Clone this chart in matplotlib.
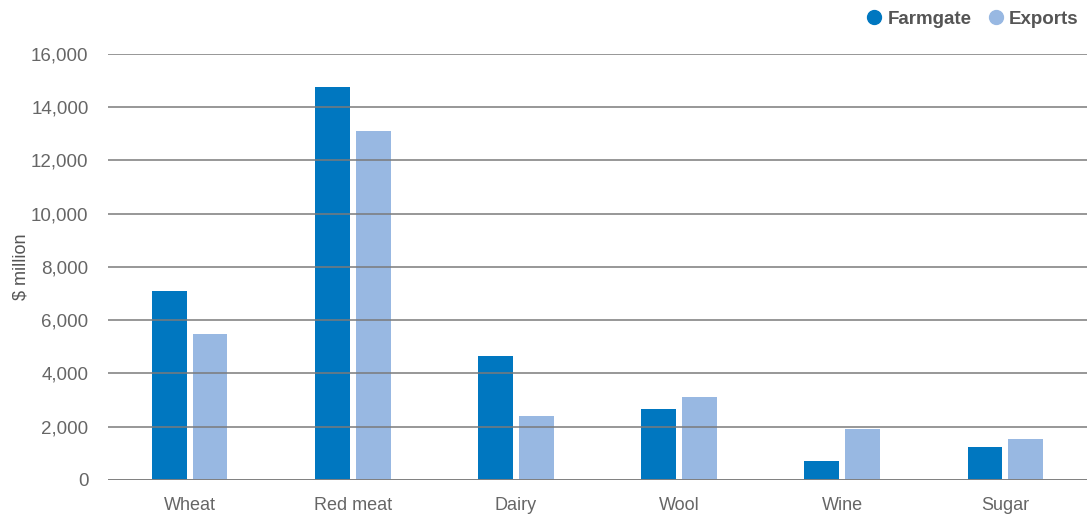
import numpy as np
import matplotlib.pyplot as plt
from matplotlib.lines import Line2D

# Farmgate vs export values by commodity ($ million)
categories = ['Wheat', 'Red meat', 'Dairy', 'Wool', 'Wine', 'Sugar']
farmgate = [7100, 14750, 4650, 2650, 700, 1250]
exports = [5500, 13100, 2400, 3100, 1900, 1550]

c_farm = '#0077C0'
c_exp = '#98B8E2'

plt.rcParams['font.family'] = ['Liberation Sans', 'DejaVu Sans']

fig = plt.figure(figsize=(10.92, 5.17), dpi=100)
ax = fig.add_axes([0.0989, 0.0716, 0.8965, 0.824])

x = np.arange(len(categories))
w = 0.214
off = 0.125
ax.bar(x - off, farmgate, width=w, color=c_farm, zorder=2)
ax.bar(x + off, exports, width=w, color=c_exp, zorder=2)

ax.set_xlim(-0.5, len(categories) - 0.5)
ax.set_ylim(0, 16000)
ax.set_yticks(np.arange(0, 16001, 2000))
ax.set_yticklabels([f'{v:,}' for v in range(0, 16001, 2000)])
ax.set_xticks(x)
ax.set_xticklabels(categories)

# grid drawn over the bars
ax.yaxis.grid(True, color='#7a7a7a', linewidth=1.1, zorder=3)
ax.set_axisbelow(False)
ax.axhline(0, color='#808080', linewidth=2, zorder=4)

for s in ax.spines.values():
    s.set_visible(False)
ax.tick_params(axis='both', length=0, colors='#666666', labelsize=13)
ax.tick_params(axis='y', labelsize=13.5, pad=14)
ax.tick_params(axis='x', pad=12)
ax.set_ylabel('$ million', color='#555555', fontsize=13, labelpad=1)

handles = [
    Line2D([], [], marker='o', linestyle='none', markersize=10, color=c_farm),
    Line2D([], [], marker='o', linestyle='none', markersize=10, color=c_exp),
]
leg = fig.legend(handles, ['Farmgate', 'Exports'], loc='upper right',
                 bbox_to_anchor=(1.003, 1.012), ncol=2, frameon=False,
                 handlelength=0.8, handletextpad=0.3, columnspacing=0.9,
                 prop={'weight': 'bold', 'size': 13.5})
for t in leg.get_texts():
    t.set_color('#555555')

fig.savefig('out.png', dpi=100)
